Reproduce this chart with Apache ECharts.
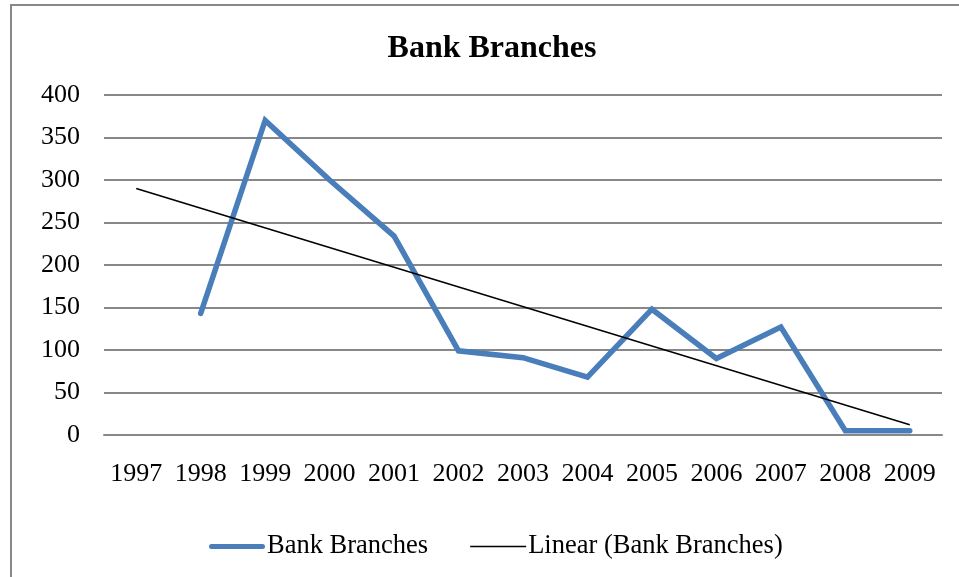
<!DOCTYPE html>
<html>
<head>
<meta charset="utf-8">
<script src="https://cdn.jsdelivr.net/npm/echarts@6/dist/echarts.min.js"></script>
<style>
html,body{margin:0;padding:0;background:#fff;}
#chart{width:959px;height:577px;}
</style>
</head>
<body>
<div id="chart"></div>
<script>
const categories = ['1997','1998','1999','2000','2001','2002','2003','2004','2005','2006','2007','2008','2009'];
const branchValues = [null,143,370,300,234,99,91,68,148,90,127,5,5];
const trendValues = [290,null,null,null,null,null,null,null,null,null,null,null,12];
const yTicks = {min:0,max:400,interval:50};

const font = '"Liberation Serif","Times New Roman",serif';
const chart = echarts.init(document.getElementById('chart'));
chart.setOption({
  animation:false,
  backgroundColor:'#fff',
  graphic:[{type:'rect',shape:{x:11,y:5,width:1000,height:700},style:{fill:'none',stroke:'#888',lineWidth:2},z:-1}],
  title:{text:'Bank Branches',left:487,top:28,textAlign:'center',textStyle:{fontFamily:font,fontSize:32,fontWeight:'bold',color:'#000'}},
  grid:{left:104,right:17,top:95,bottom:142},
  legend:{top:528,left:204,itemGap:42,itemWidth:56,itemHeight:14,
    textStyle:{fontFamily:font,fontSize:26.5,color:'#000',padding:[0,0,0,-3]},
    data:[
      {name:'Bank Branches',icon:'path://M2.5,0 H53.5 A2.5,2.5 0 0 1 53.5,5 H2.5 A2.5,2.5 0 0 1 2.5,0 Z',itemStyle:{color:'#4a7ebb'}},
      {name:'Linear (Bank Branches)',icon:'path://M0,0 H56 V1.6 H0 Z',itemStyle:{color:'#000'}}
    ]},
  xAxis:{type:'category',data:categories,boundaryGap:true,
    axisLine:{lineStyle:{color:'#888',width:2}},axisTick:{show:false},
    axisLabel:{interval:0,hideOverlap:false,fontFamily:font,fontSize:26,color:'#000',margin:26}},
  yAxis:{type:'value',min:yTicks.min,max:yTicks.max,interval:yTicks.interval,
    axisLine:{show:false},axisTick:{show:false},
    splitLine:{lineStyle:{color:'#888',width:2}},
    axisLabel:{fontFamily:font,fontSize:26,color:'#000',margin:24}},
  series:[
    {name:'Bank Branches',type:'line',data:branchValues,symbol:'none',
      lineStyle:{color:'#4a7ebb',width:5.5,cap:'round',join:'miter'},itemStyle:{color:'#4a7ebb'}},
    {name:'Linear (Bank Branches)',type:'line',data:trendValues,connectNulls:true,symbol:'none',
      lineStyle:{color:'#000',width:1.5},itemStyle:{color:'#000'}}
  ]
});
</script>
</body>
</html>
